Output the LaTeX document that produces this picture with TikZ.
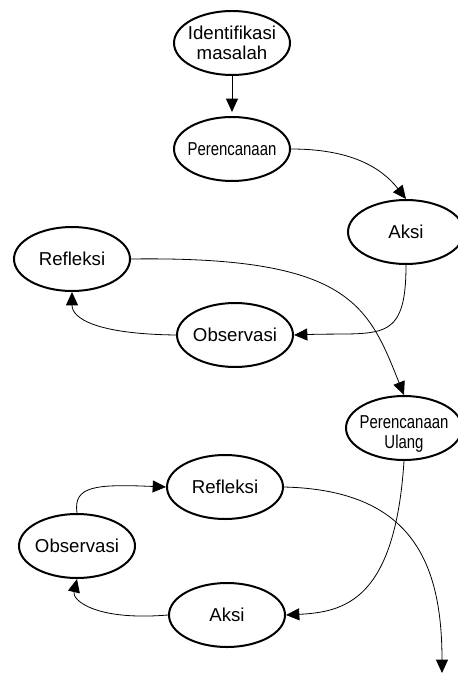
\documentclass[tikz,border=0pt]{standalone}
\usepackage{fontspec}
\setmainfont{Liberation Sans}
\usepackage{graphicx}
\usetikzlibrary{shapes.geometric, arrows.meta}
\newcommand{\rapat}[1]{\scalebox{0.8}[1]{#1}}

\begin{document}
\begin{tikzpicture}[x=0.75pt, y=-0.75pt,
  tahap/.style={ellipse, draw, line width=1.5pt, minimum width=87pt, minimum height=48pt, inner xsep=-30pt, inner ysep=-20pt, align=center, font=\fontsize{14}{15}\selectfont},
  panah/.style={line width=0.6pt, -{Triangle[length=10pt, width=9pt]}}]

\useasboundingbox (0,0) rectangle (457,673);

\node[tahap] (identifikasi) at (232,43) {Identifikasi\\masalah};
\node[tahap] (rencana) at (232,149) {\rapat{Perencanaan}};
\node[tahap] (aksi) at (406,232) {Aksi};
\node[tahap] (refleksi) at (72,259) {Refleksi};
\node[tahap] (observasi) at (235,335) {Observasi};
\node[tahap] (ulang) at (404,428) {\rule{0pt}{19pt}\rapat{Perencanaan}\\\rapat{Ulang}};
\node[tahap] (refleksiB) at (225,487) {Refleksi};
\node[tahap] (observasiB) at (77,546) {Observasi};
\node[tahap] (aksiB) at (227,615) {Aksi};
\coordinate (akhir) at (442,673);

\draw[panah, shorten >=3pt] (identifikasi) -- (rencana);
\draw[panah] (rencana.east) .. controls (350,149) and (381,167) .. (aksi.north);
\draw[panah] (aksi.south) .. controls (406,345) and (380,332) .. (observasi.east);
\draw[panah] (observasi.west) .. controls (95,334) and (72,318) .. (refleksi.south);
\draw[panah] (refleksi.east) .. controls (350,256) and (368,305) .. (ulang.north);
\draw[panah] (ulang.south) .. controls (395,600) and (345,612) .. (aksiB.east);
\draw[panah] (aksiB.west) .. controls (95,621) and (72,600) .. (observasiB.south);
\draw[panah] (observasiB.north) .. controls (73,486) and (95,484) .. (refleksiB.west);
\draw[panah] (refleksiB.east) .. controls (410,490) and (442,560) .. (akhir);

\end{tikzpicture}
\end{document}
